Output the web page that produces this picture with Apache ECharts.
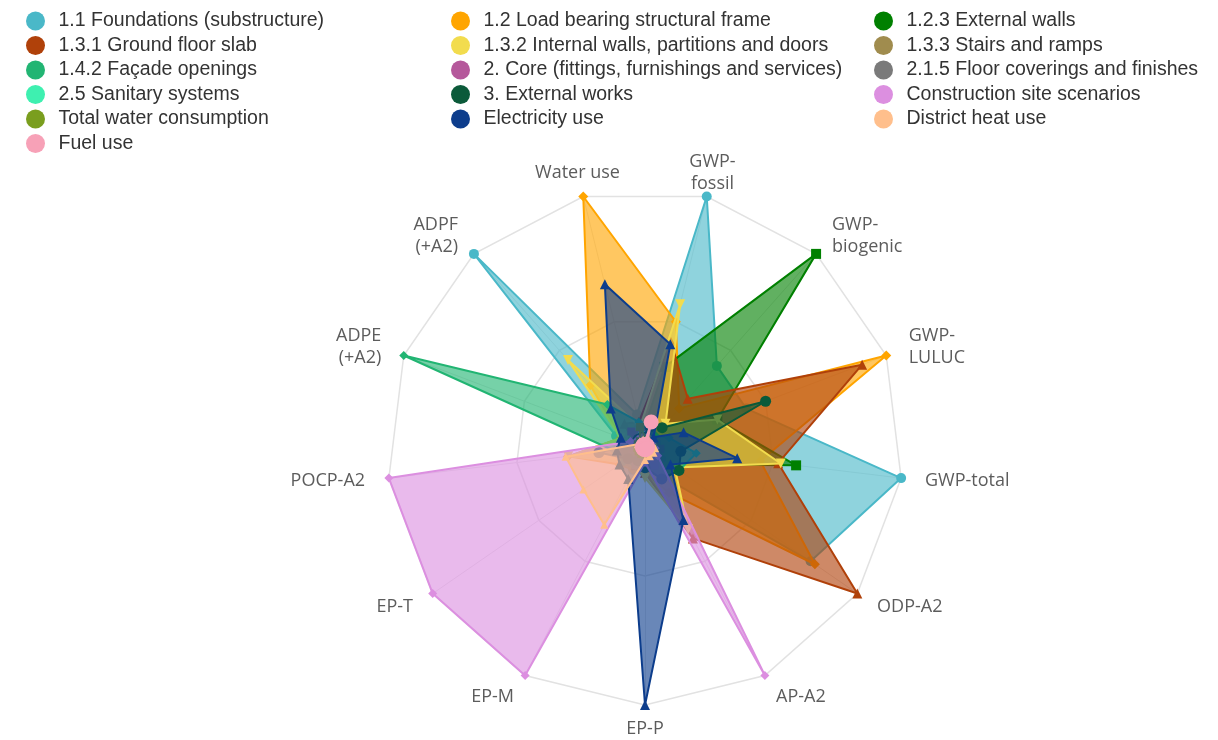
<!DOCTYPE html>
<html>
<head>
<meta charset="utf-8">
<script src="https://cdn.jsdelivr.net/npm/echarts@6/dist/echarts.min.js"></script>
<style>
  html, body { margin: 0; padding: 0; background: #ffffff; }
  #chart { width: 1218px; height: 740px; }
</style>
</head>
<body>
<div id="chart"></div>
<script>
// Impact categories, listed counter-clockwise starting at GWP-total
const indicatorNames = ['GWP-total', 'GWP-\nLULUC', 'GWP-\nbiogenic', 'GWP-\nfossil', 'Water use',
  'ADPF\n(+A2)', 'ADPE\n(+A2)', 'POCP-A2', 'EP-T', 'EP-M', 'EP-P', 'AP-A2', 'ODP-A2'];

// Share of the largest contributor in each category (%)
const foundations      = [100, 42, 42, 100, 13, 100, 12, 12, 10, 10, 10, 12, 78];
const loadBearing      = [45, 100, 20, 50, 100, 32, 10, 30, 12, 10, 10, 20, 80];
const externalWalls    = [59, 30, 100, 32, 5, 5, 5, 5, 5, 5, 5, 8, 12];
const groundFloorSlab  = [52, 90, 25, 42, 10, 12, 5, 8, 6, 8, 10, 40, 100];
const internalWalls    = [53, 30, 12, 57, 8, 45, 10, 30, 10, 8, 12, 36, 14];
const stairsRamps      = [6, 5, 4, 8, 6, 6, 4, 6, 5, 5, 4, 6, 8];
const facadeOpenings   = [20, 10, 6, 8, 10, 22, 100, 12, 10, 8, 8, 14, 16];
const core             = [4, 3, 3, 5, 4, 6, 5, 5, 4, 4, 6, 5, 4];
const floorCoverings   = [6, 4, 3, 8, 6, 8, 5, 10, 8, 8, 6, 8, 6];
const sanitarySystems  = [3, 2, 2, 3, 5, 3, 4, 3, 3, 3, 4, 3, 3];
const externalWorks    = [14, 50, 10, 8, 4, 4, 4, 18, 8, 6, 8, 14, 16];
const siteScenarios    = [4, 3, 3, 4, 4, 4, 6, 100, 100, 100, 6, 100, 6];
const totalWater       = [3, 2, 2, 3, 8, 3, 3, 3, 3, 3, 3, 3, 3];
const electricityUse   = [36, 16, 5, 41, 65, 20, 10, 11, 12, 14, 100, 32, 12];
const districtHeat     = [4, 3, 2, 4, 3, 3, 3, 31, 29, 34, 5, 4, 4];
const fuelUse          = [1, 1, 1, 10, 1, 1, 1, 1, 1, 1, 1, 1, 1];

const seriesNames = ['1.1 Foundations (substructure)', '1.2 Load bearing structural frame', '1.2.3 External walls',
  '1.3.1 Ground floor slab', '1.3.2 Internal walls, partitions and doors', '1.3.3 Stairs and ramps',
  '1.4.2 Façade openings', '2. Core (fittings, furnishings and services)', '2.1.5 Floor coverings and finishes',
  '2.5 Sanitary systems', '3. External works', 'Construction site scenarios', 'Total water consumption',
  'Electricity use', 'District heat use', 'Fuel use'];
const seriesValues = [foundations, loadBearing, externalWalls, groundFloorSlab, internalWalls, stairsRamps,
  facadeOpenings, core, floorCoverings, sanitarySystems, externalWorks, siteScenarios, totalWater,
  electricityUse, districtHeat, fuelUse];
const seriesColors = ['#4ab8c8', '#ffa500', '#008000', '#b0410a', '#f2dc4e', '#a08c4e', '#22b573', '#b5589b',
  '#7a7a7a', '#3ef0b0', '#0b5a3a', '#dc8fe0', '#7a9e1e', '#0d3d8c', '#ffbf8c', '#f7a1b7'];
const seriesSymbols = ['circle', 'diamond', 'rect', 'triangle', 'triangle', 'circle', 'diamond', 'triangle',
  'rect', 'circle', 'circle', 'diamond', 'rect', 'triangle', 'triangle', 'circle'];
const symbolRotations = [0, 0, 0, 0, 180, 0, 0, 0, 0, 0, 0, 0, 0, 0, 0, 0];
const symbolSizes = [10, 10, 10, 10, 10, 8, 9, 8, 8, 8, 11, 9, 8, 10, 8, 15];

// Legend columns
const legendColumns = [
  ['1.1 Foundations (substructure)', '1.3.1 Ground floor slab', '1.4.2 Façade openings', '2.5 Sanitary systems',
   'Total water consumption', 'Fuel use'],
  ['1.2 Load bearing structural frame', '1.3.2 Internal walls, partitions and doors',
   '2. Core (fittings, furnishings and services)', '3. External works', 'Electricity use'],
  ['1.2.3 External walls', '1.3.3 Stairs and ramps', '2.1.5 Floor coverings and finishes',
   'Construction site scenarios', 'District heat use']
];
const legendLefts = [21, 446, 869];

// Radar geometry
const CX = 645, CY = 447, R = 258;
const START_ANGLE = -90 + 3 * 360 / 13;

const chart = echarts.init(document.getElementById('chart'), null, { renderer: 'canvas' });

const legends = legendColumns.map((col, i) => ({
  orient: 'vertical',
  left: legendLefts[i],
  top: 6,
  itemWidth: 36,
  itemHeight: 19,
  itemGap: 4.5,
  icon: 'circle',
  data: col,
  selectedMode: false,
  textStyle: { fontFamily: 'Liberation Sans, Arial, sans-serif', fontSize: 19.5, color: '#333' }
}));

const series = seriesNames.map((name, i) => ({
  type: 'radar',
  name: name,
  z: 2 + i,
  symbol: seriesSymbols[i],
  symbolSize: symbolSizes[i],
  symbolRotate: symbolRotations[i],
  lineStyle: { color: seriesColors[i], width: 2 },
  itemStyle: { color: seriesColors[i] },
  areaStyle: { color: seriesColors[i], opacity: 0.62 },
  emphasis: { disabled: true },
  data: [{ name: name, value: seriesValues[i] }]
}));

// Category labels placed just outside each spoke
const n = indicatorNames.length;
const labelGraphics = indicatorNames.map((txt, i) => {
  const a = (START_ANGLE + i * 360 / n) * Math.PI / 180;
  const c = Math.cos(a), s = Math.sin(a);
  const rr = R + 24;
  const align = Math.abs(c) < 0.3 ? 'center' : (c > 0 ? 'left' : 'right');
  return {
    type: 'text',
    x: CX + rr * c,
    y: CY - rr * s,
    silent: true,
    style: {
      text: txt,
      fill: '#5c5c5c',
      font: '18px "Open Sans", sans-serif',
      lineHeight: 22,
      align: align,
      verticalAlign: 'middle'
    }
  };
});

chart.setOption({
  backgroundColor: '#ffffff',
  animation: false,
  legend: legends,
  radar: {
    center: [CX, CY],
    radius: R,
    startAngle: START_ANGLE,
    shape: 'polygon',
    splitNumber: 2,
    indicator: indicatorNames.map(nm => ({ name: nm, max: 100, min: 0 })),
    axisName: { show: false },
    axisLine: { lineStyle: { color: '#e6e6e6', width: 1 } },
    splitLine: { lineStyle: { color: '#e2e2e2', width: 1.5 } },
    splitArea: { show: false }
  },
  graphic: labelGraphics,
  series: series
});
</script>
</body>
</html>
